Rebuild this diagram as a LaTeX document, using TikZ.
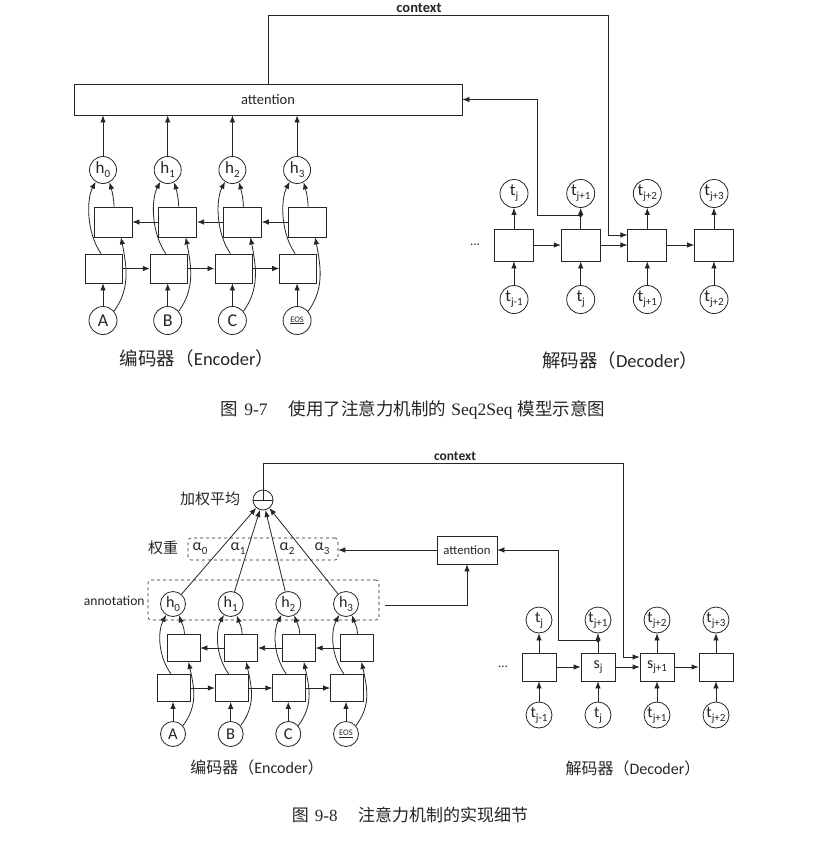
\documentclass[tikz,border=0pt]{standalone}
\usepackage{fontspec}
\setmainfont{Carlito}
\newfontfamily\cjk{Noto Sans CJK SC}
\newfontfamily\capserif{Liberation Serif}
\usetikzlibrary{arrows.meta,calc}
\newcommand\lsub[1]{\raisebox{-0.5ex}{\fontsize{11}{11}\selectfont #1}}
\newcommand\eos{{\fontsize{8.5}{8.5}\selectfont\underline{EOS}}}
\begin{document}
\begin{tikzpicture}[x=1pt,y=-1pt,line width=0.8pt,color=black!85,
  arr/.style={-{Latex[length=7pt,width=5.5pt]}},
  cir/.style 2 args={circle,draw,minimum size=#1,inner sep=0pt,font=\fontsize{#2}{#2}\selectfont},
  box/.style 2 args={rectangle,draw,inner sep=0pt,minimum width=#1,minimum height=#2},
  lbl/.style={inner sep=0pt,font=\fontsize{#1}{#1}\selectfont},
  blbl/.style={inner sep=0pt,font=\bfseries\fontsize{#1}{#1}\selectfont},
  dbox/.style={draw,dashed,line width=0.6pt,rounded corners=3pt,inner sep=0pt}]
\useasboundingbox (0,0) rectangle (820,844);
\fill[white] (0,0) rectangle (820,844);

%================ Figure 9-7 =================
\node[box={388pt}{31pt},lbl=14.5] (att1) at (268,99.5) {attention};
\node[blbl=14.5] (ctx1) at (419,8) {context};

\foreach \i/\x/\lab in {0/103/A,1/167.7/B,2/232.4/C,3/297.1/\eos}{
  \node[cir={27pt}{17}] (h\i) at (\x,170) {h\lsub{\i}};
  \node[box={38pt}{30pt}] (u\i) at (\x+10,222) {};
  \node[box={37pt}{29pt}] (l\i) at (\x+1,268.5) {};
  \node[cir={28pt}{18}] (in\i) at (\x,320.5) {\lab};
  \draw[arr] (in\i.north) -- (in\i.north |- l\i.south);
  \draw[arr] (h\i.north) -- (h\i.north |- att1.south);
  \draw[arr] ($(l\i.north)+(-3,0)$) .. controls +(-15,-22) and +(-9,17) .. (h\i.238);
  \draw[arr] ($(u\i.north)+(1,0)$) .. controls +(0,-8) and +(2,7) .. (h\i.298);
  \draw[arr] (in\i.40) .. controls +(16,-22) and +(6,30) .. ($(u\i.south)+(8,0)$);
}
\foreach \i/\j in {0/1,1/2,2/3}{
  \draw[arr] (l\i.east) -- (l\j.west);
  \draw[arr] (u\j.west) -- (u\i.east);
}

\foreach \i/\x/\a/\b in {1/514/j/j-1,2/580.7/j+1/j,3/647.3/j+2/j+1,4/714/j+3/j+2}{
  \node[box={39pt}{32pt}] (d\i) at (\x,245) {};
  \node[cir={28pt}{17}] (o\i) at (\x,193.5) {t\lsub{\a}};
  \node[cir={28pt}{17}] (n\i) at (\x,299.5) {t\lsub{\b}};
  \draw[arr] (n\i.north) -- (d\i.south);
  \draw[arr] (d\i.north) -- (o\i.south);
}
\foreach \i/\j in {1/2,2/3,3/4}{
  \draw[arr] (d\i.east) -- (d\j.west);
}
\node[lbl=13] (dots1) at (475,245) {...};
\path (d2.north) ++(0,-13) coordinate (dot1);
\fill (dot1) circle (1.9);
\draw[arr] (dot1) -- ++(-43,0) |- (att1.east);
\draw[arr] (att1.north) |- (608,15) |- ($(d3.west)+(0,-10)$);

\node[lbl=18.5] (enc1) at (197,358) {{\cjk 编码器（}Encoder{\cjk ）}};
\node[lbl=18.5] (dec1) at (620,360) {{\cjk 解码器（}Decoder{\cjk ）}};
\node[lbl=17.5] (cap1) at (413,410) {{\cjk 图}\hspace{0.35em}{\capserif 9-7}\hspace{1.2em}{\cjk 使用了注意力机制的}\hspace{0.3em}{\capserif Seq2Seq}\hspace{0.3em}{\cjk 模型示意图}};

%================ Figure 9-8 =================
\node[circle,draw,minimum size=20pt,inner sep=0pt] (sum) at (263,500) {};
\draw (sum.west) -- (sum.east);
\node[blbl=13.5] (ctx2) at (455,456) {context};
\node[lbl=15] (wavg) at (210,499) {\cjk 加权平均};
\node[lbl=15] (wt) at (163,548) {\cjk 权重};

\node[dbox,minimum width=150pt,minimum height=22pt] (abox) at (263,549) {};
\foreach \k/\x in {0/200,1/238,2/287,3/322}{
  \node[lbl=16] (al\k) at (\x,549) {α\lsub{\k}};
}
\node[box={60pt}{28pt},lbl=12.7] (att2) at (467,550) {attention};
\draw[arr] (att2.west) -- (abox.east |- att2.west);

\node[dbox,minimum width=231pt,minimum height=40pt] (ann) at (263.5,600) {};
\node[lbl=13.6,anchor=east] (annl) at (145,601) {annotation};
\draw[arr] ($(ann.east)+(6,5)$) -| (att2.south);

\foreach \i/\x/\lab in {0/173/A,1/230.7/B,2/288.3/C,3/346/\eos}{
  \node[cir={25pt}{16}] (hb\i) at (\x,604) {h\lsub{\i}};
  \node[box={33pt}{27pt}] (ub\i) at (\x+10.5,648) {};
  \node[box={33pt}{27pt}] (lb\i) at (\x+1,688) {};
  \node[cir={25pt}{16.5}] (ib\i) at (\x,734) {\lab};
  \draw[arr] (ib\i.north) -- (ib\i.north |- lb\i.south);
  \draw[arr] ($(lb\i.north)+(-3,0)$) .. controls +(-14,-20) and +(-8,15) .. (hb\i.238);
  \draw[arr] ($(ub\i.north)+(1,0)$) .. controls +(0,-7) and +(2,6) .. (hb\i.298);
  \draw[arr] (ib\i.40) .. controls +(15,-20) and +(6,27) .. ($(ub\i.south)+(5,0)$);
  \draw[arr] (hb\i) -- (sum);
}
\foreach \i/\j in {0/1,1/2,2/3}{
  \draw[arr] (lb\i.east) -- (lb\j.west);
  \draw[arr] (ub\j.west) -- (ub\i.east);
}

\foreach \i/\x/\a/\b/\c in {1/539/j/j-1/{},2/598/j+1/j/{s\lsub{j}},3/657/j+2/j+1/{s\lsub{j+1}},4/716/j+3/j+2/{}}{
  \node[box={34pt}{28pt},lbl=16] (s\i) at (\x,667) {\c};
  \node[cir={26pt}{16}] (ob\i) at (\x,620) {t\lsub{\a}};
  \node[cir={26pt}{16}] (nb\i) at (\x,715) {t\lsub{\b}};
  \draw[arr] (nb\i.north) -- (s\i.south);
  \draw[arr] (s\i.north) -- (ob\i.south);
}
\foreach \i/\j in {1/2,2/3,3/4}{
  \draw[arr] (s\i.east) -- (s\j.west);
}
\node[lbl=13] (dots2) at (503,667) {...};
\path (s2.north) ++(0,-12) coordinate (dot2);
\fill (dot2) circle (1.9);
\draw[arr] (dot2) -- ++(-40,0) |- (att2.east);
\draw[arr] (sum.center) |- (623,463) |- ($(s3.west)+(0,-10)$);

\node[lbl=16] (enc2) at (257,767) {{\cjk 编码器（}Encoder{\cjk ）}};
\node[lbl=16] (dec2) at (633,768) {{\cjk 解码器（}Decoder{\cjk ）}};
\node[lbl=17] (cap2) at (410,815) {{\cjk 图}\hspace{0.35em}{\capserif 9-8}\hspace{1.2em}{\cjk 注意力机制的实现细节}};
\end{tikzpicture}
\end{document}
